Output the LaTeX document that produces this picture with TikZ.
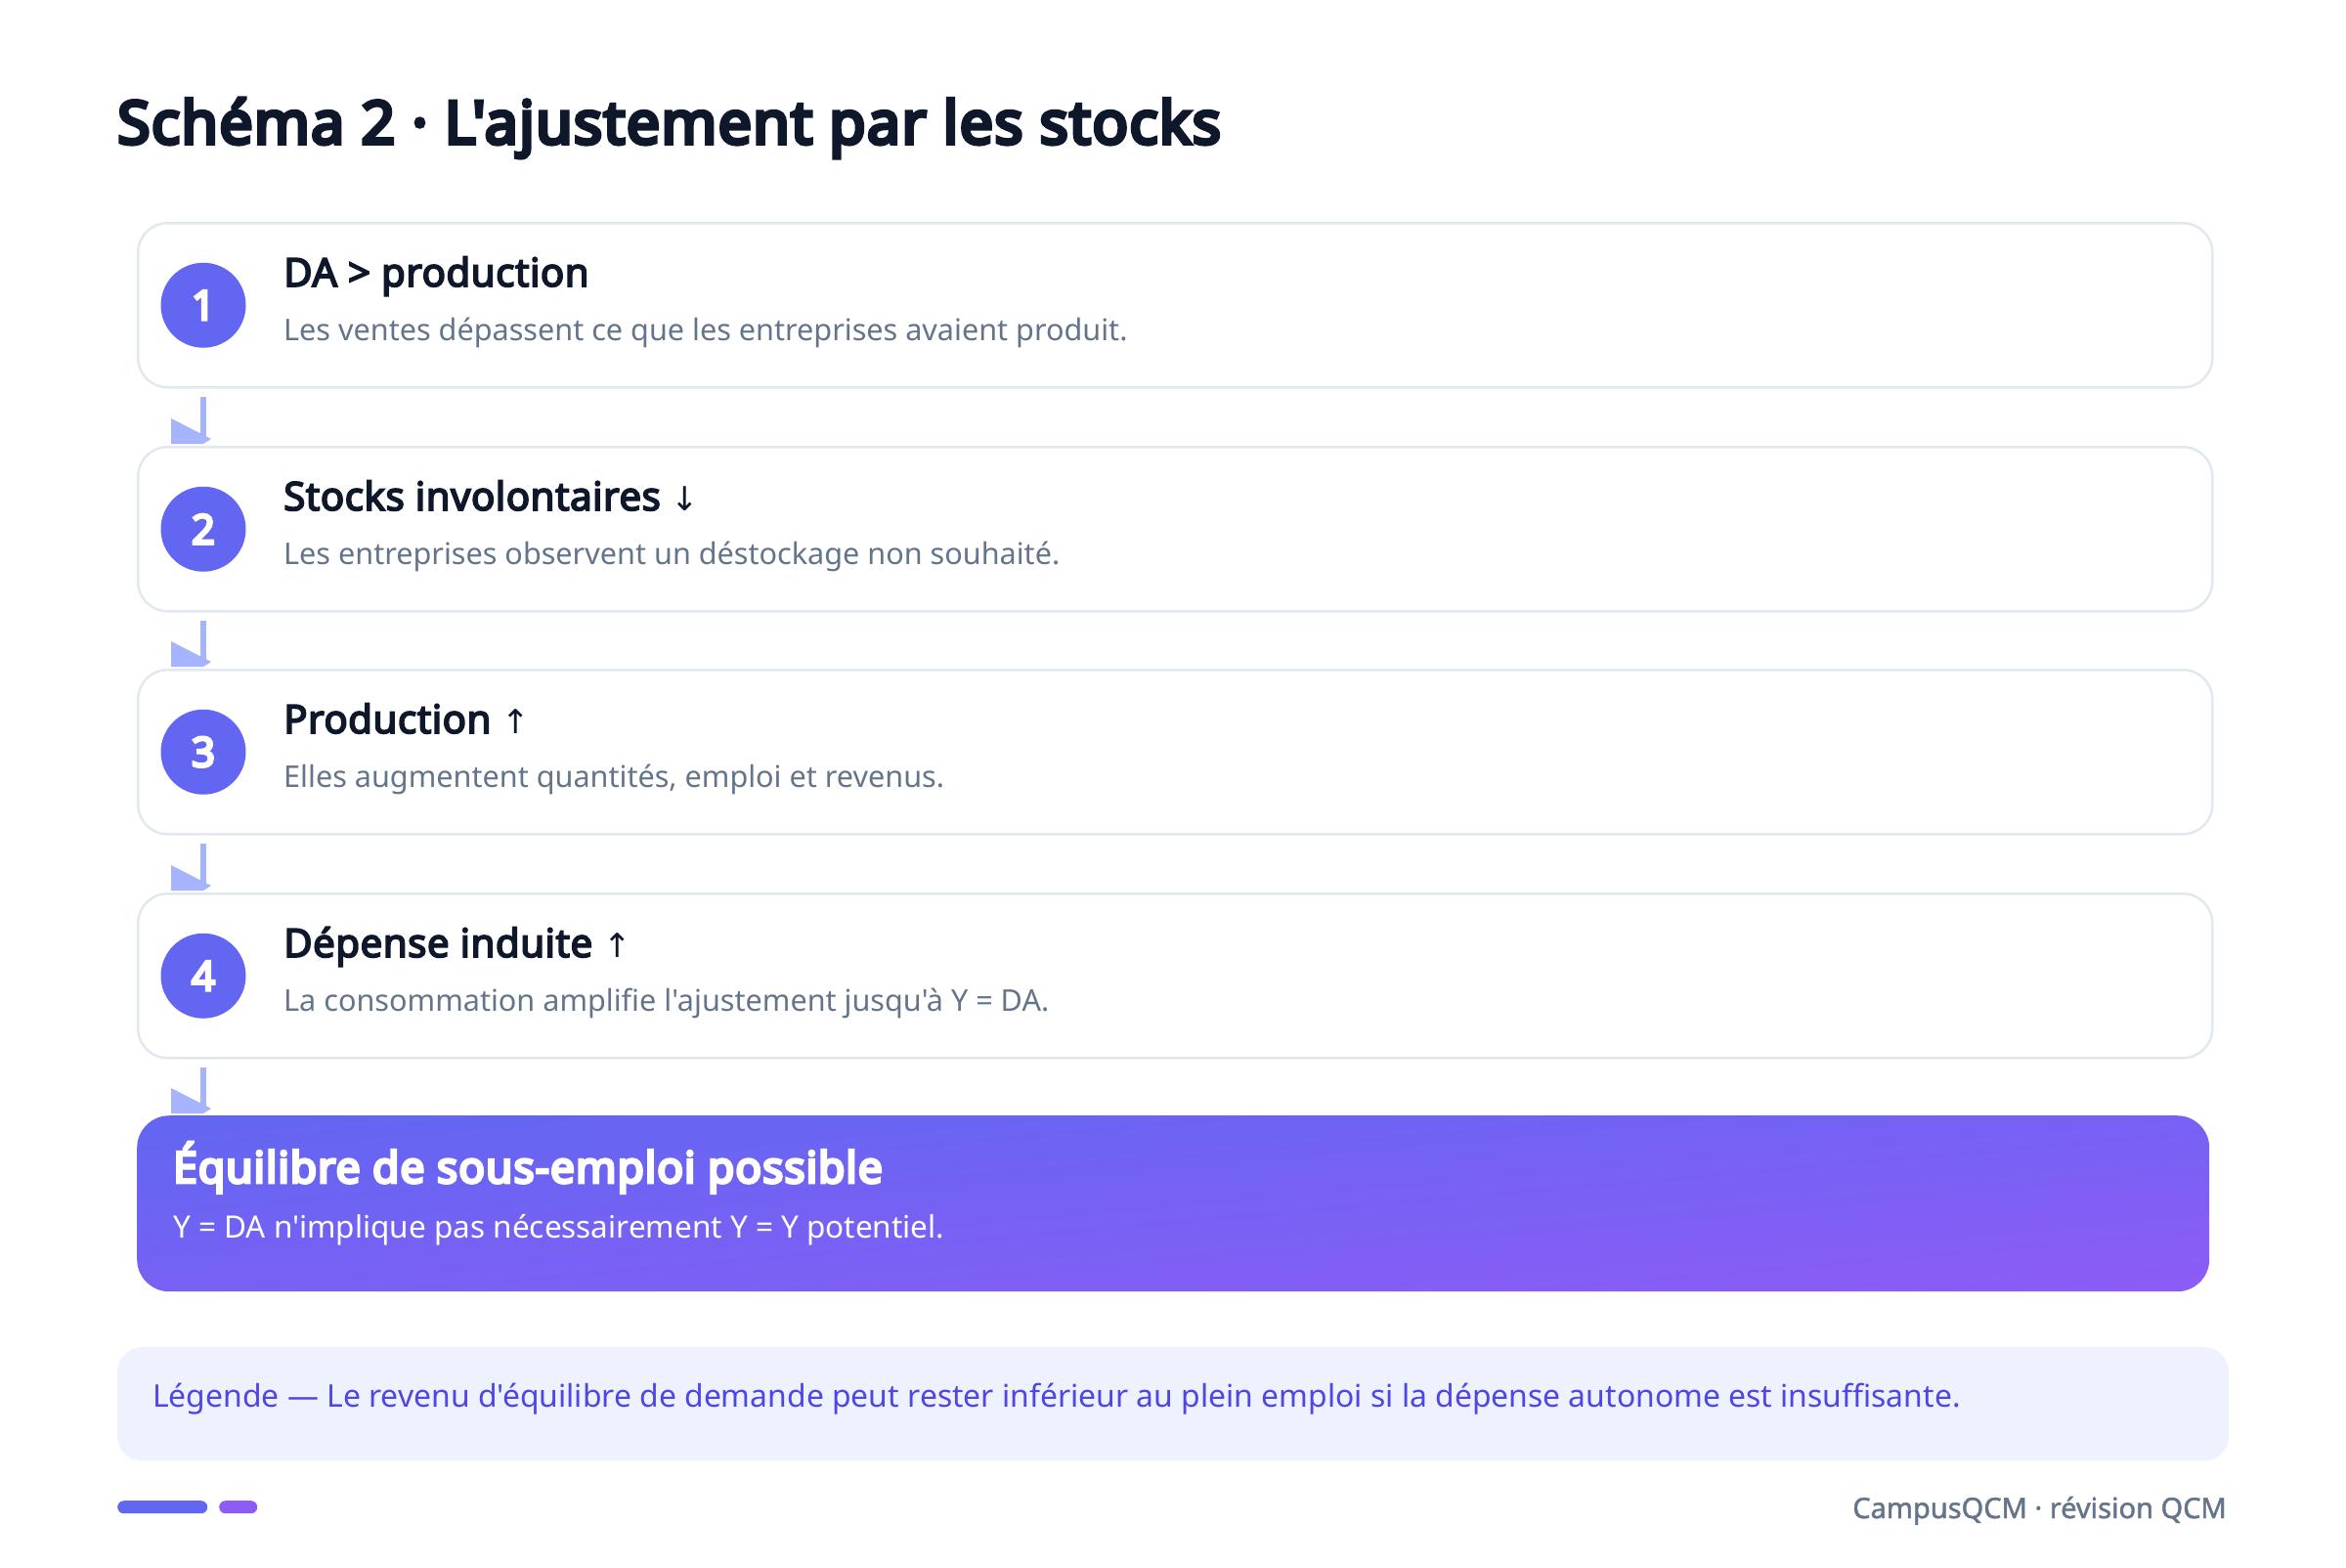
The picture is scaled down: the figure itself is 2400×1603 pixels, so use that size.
\documentclass[tikz,border=0pt]{standalone}
\usepackage{fontspec}
\setmainfont{Noto Sans}[Ligatures=TeXOff]
\newfontfamily\heavyf{Noto Sans}[FakeBold=6.5, LetterSpace=2.2, Ligatures=TeXOff]
\newfontfamily\boldf{Noto Sans}[FakeBold=4.2, LetterSpace=1.2, Ligatures=TeXOff]
\newfontfamily\semif{Noto Sans}[FakeBold=1.5, Ligatures=TeXOff]
\newfontfamily\arrowfont{DejaVu Sans}
\usetikzlibrary{calc}
\definecolor{ink}{HTML}{0F172A}
\definecolor{muted}{HTML}{64748B}
\definecolor{cardline}{HTML}{E2E8F0}
\definecolor{indigo}{HTML}{6366F1}
\definecolor{violet}{HTML}{8B5CF6}
\definecolor{arrowc}{HTML}{A5B4FC}
\definecolor{legfill}{HTML}{EEF2FF}
\definecolor{legtext}{HTML}{4F46E5}
\newcommand{\fs}[1]{\fontsize{#1pt}{#1pt}\selectfont}
\tikzset{
  card/.style={draw=cardline, line width=2.5pt, fill=white, rounded corners=30pt,
    minimum width=2122pt, minimum height=168pt, anchor=north west, inner sep=0pt},
  numc/.style={circle, fill=indigo, minimum size=87pt, inner sep=0pt, text=white,
    font=\heavyf\fs{42}},
  hd/.style={anchor=base west, inner sep=0pt, text=ink, font=\boldf\fs{40.3}},
  sb/.style={anchor=base west, inner sep=0pt, text=muted, font=\fs{30.6}},
  conn/.style={draw=arrowc, line width=6pt},
  ahead/.style={fill=arrowc},
  finalbox/.style={rounded corners=33pt, minimum width=2120pt, minimum height=180pt,
    anchor=north west, inner sep=0pt, top color=indigo, bottom color=violet, shading angle=5},
  legbox/.style={fill=legfill, rounded corners=25pt, minimum width=2160pt, minimum height=116pt,
    anchor=north west, inner sep=0pt},
  bar/.style={rounded corners=6.5pt, minimum height=13pt, inner sep=0pt, anchor=north west}
}
\newcommand{\ahead}[1]{\fill[ahead] ($(#1)+(-33,-21)$) -- ($(#1)+(8,0)$) -- ($(#1)+(0,5)$) -- ($(#1)+(-33,5)$) -- cycle;}
\begin{document}
\begin{tikzpicture}[x=1pt,y=-1pt]
\useasboundingbox (0,0) rectangle (2400,1603);
\fill[white] (0,0) rectangle (2400,1603);

\node[anchor=base west, inner sep=0pt, text=ink, font=\heavyf\fs{60.8}] (title) at (120,147)
  {Schéma 2 · L'ajustement par les stocks};

% cards
\node[card] (c1) at (140,227) {};
\node[card] (c2) at (140,456) {};
\node[card] (c3) at (140,684) {};
\node[card] (c4) at (140,913) {};

\node[numc] (n1) at (c1.west -| 208,0) {1};
\node[numc] (n2) at (c2.west -| 208,0) {2};
\node[numc] (n3) at (c3.west -| 208,0) {3};
\node[numc] (n4) at (c4.west -| 208,0) {4};

\node[hd] (h1) at ($(c1.north west)+(150,66)$) {DA > production};
\node[sb] (s1) at ($(c1.north west)+(150,121)$) {Les ventes dépassent ce que les entreprises avaient produit.};
\node[hd] (h2) at ($(c2.north west)+(150,66)$) {Stocks involontaires {\arrowfont\fs{34}↓}};
\node[sb] (s2) at ($(c2.north west)+(150,121)$) {Les entreprises observent un déstockage non souhaité.};
\node[hd] (h3) at ($(c3.north west)+(150,66)$) {Production {\arrowfont\fs{34}↑}};
\node[sb] (s3) at ($(c3.north west)+(150,121)$) {Elles augmentent quantités, emploi et revenus.};
\node[hd] (h4) at ($(c4.north west)+(150,66)$) {Dépense induite {\arrowfont\fs{34}↑}};
\node[sb] (s4) at ($(c4.north west)+(150,121)$) {La consommation amplifie l'ajustement jusqu'à Y = DA.};

% final box
\node[finalbox] (fin) at (140,1141) {};
\node[anchor=base west, inner sep=0pt, text=white, font=\heavyf\fs{44.4}] (ft) at ($(fin.north west)+(37,69)$)
  {Équilibre de sous-emploi possible};
\node[anchor=base west, inner sep=0pt, text=white, font=\fs{31.5}] (fs) at ($(fin.north west)+(37,125)$)
  {Y = DA n'implique pas nécessairement Y = Y potentiel.};

% connectors
\coordinate (e1) at ($(n1 |- c2.north)+(0,-7)$);
\coordinate (e2) at ($(n2 |- c3.north)+(0,-7)$);
\coordinate (e3) at ($(n3 |- c4.north)+(0,-7)$);
\coordinate (e4) at ($(n4 |- fin.north)+(0,-7)$);
\draw[conn] ($(n1 |- c1.south)+(0,8)$) -- (e1); \ahead{e1}
\draw[conn] ($(n2 |- c2.south)+(0,8)$) -- (e2); \ahead{e2}
\draw[conn] ($(n3 |- c3.south)+(0,8)$) -- (e3); \ahead{e3}
\draw[conn] ($(n4 |- c4.south)+(0,8)$) -- (e4); \ahead{e4}

% legend
\node[legbox] (leg) at (120,1378) {};
\node[anchor=base west, inner sep=0pt, text=legtext, font=\fs{31.9}] (legt) at ($(leg.north west)+(36,61)$)
  {Légende — Le revenu d'équilibre de demande peut rester inférieur au plein emploi si la dépense autonome est insuffisante.};

% footer
\node[bar, fill=indigo, minimum width=92pt] (b1) at (120,1535) {};
\node[bar, fill=violet, minimum width=39pt] (b2) at (224,1535) {};
\node[anchor=base east, inner sep=0pt, text=muted, font=\semif\fs{29}] (foot) at (2278,1553)
  {CampusQCM · révision QCM};
\end{tikzpicture}
\end{document}
